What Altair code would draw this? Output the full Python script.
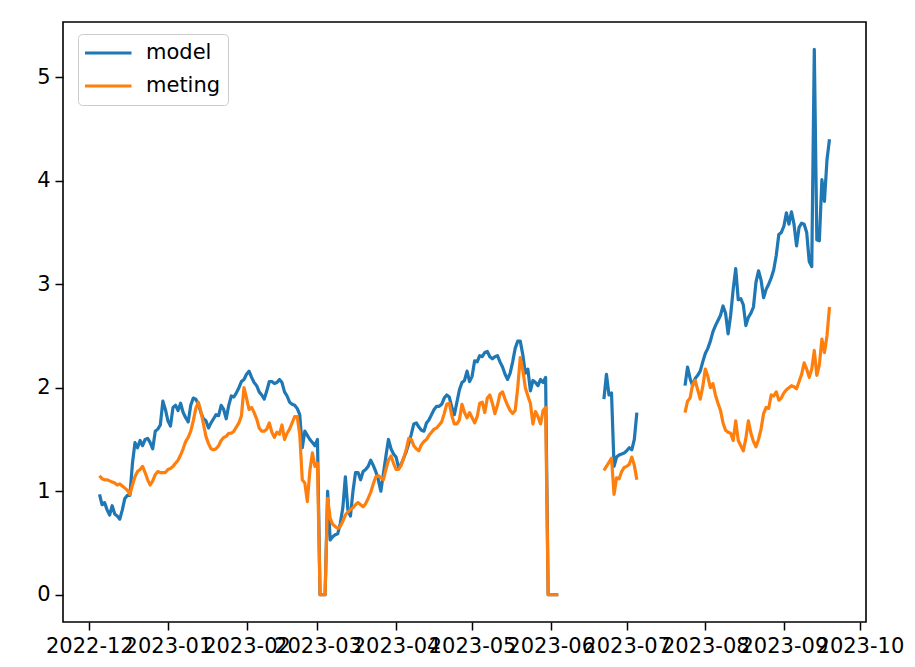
import altair as alt
import pandas as pd

# ---------------- data ----------------
series_names = ["model", "meting"]
series_colors = ["#1f77b4", "#ff7f0e"]

# daily values, three contiguous stretches
segment_starts = ["2022-12-05", "2023-06-22", "2023-07-24"]

model_seg1 = [
    0.97, 0.87, 0.89, 0.82, 0.77, 0.86, 0.78, 0.76, 0.73, 0.82,
    0.93, 0.96, 0.96, 1.27, 1.47, 1.42, 1.49, 1.44, 1.50, 1.51,
    1.47, 1.41, 1.58, 1.60, 1.64, 1.87, 1.79, 1.68, 1.63, 1.81,
    1.83, 1.78, 1.85, 1.76, 1.71, 1.67, 1.83, 1.90, 1.89, 1.84,
    1.76, 1.70, 1.68, 1.61, 1.66, 1.70, 1.74, 1.73, 1.83, 1.79,
    1.70, 1.83, 1.92, 1.91, 1.95, 2.00, 2.06, 2.08, 2.13, 2.16,
    2.10, 2.05, 2.02, 1.96, 1.93, 1.89, 1.97, 2.06, 2.06, 2.04,
    2.05, 2.08, 2.05, 1.96, 1.92, 1.86, 1.84, 1.83, 1.80, 1.74,
    1.42, 1.58, 1.54, 1.50, 1.47, 1.44, 1.50, 0.00, 0.00, 0.00,
    1.00, 0.53, 0.56, 0.58, 0.59, 0.69, 0.84, 1.14, 0.82, 0.76,
    1.00, 1.18, 1.18, 1.11, 1.19, 1.21, 1.24, 1.30, 1.25, 1.19,
    1.11, 1.00, 1.17, 1.34, 1.50, 1.41, 1.36, 1.33, 1.23, 1.26,
    1.32, 1.38, 1.46, 1.55, 1.65, 1.66, 1.62, 1.59, 1.58, 1.66,
    1.69, 1.74, 1.79, 1.82, 1.82, 1.84, 1.90, 1.93, 1.91, 1.81,
    1.74, 1.86, 1.98, 2.05, 2.07, 2.16, 2.06, 2.11, 2.26, 2.25,
    2.31, 2.30, 2.34, 2.35, 2.30, 2.28, 2.30, 2.31, 2.25, 2.20,
    2.13, 2.08, 2.14, 2.25, 2.38, 2.45, 2.45, 2.32, 2.14, 2.18,
    1.97, 2.07, 2.05, 2.02, 2.08, 2.05, 2.10, 0.00, 0.00, 0.00,
    0.00, 0.00,
]
meting_seg1 = [
    1.15, 1.12, 1.11, 1.11, 1.10, 1.09, 1.08, 1.06, 1.07, 1.05,
    1.03, 1.01, 0.97, 1.06, 1.14, 1.19, 1.21, 1.24, 1.18, 1.11,
    1.06, 1.10, 1.16, 1.19, 1.18, 1.18, 1.18, 1.21, 1.22, 1.24,
    1.27, 1.30, 1.35, 1.41, 1.48, 1.52, 1.58, 1.68, 1.80, 1.86,
    1.77, 1.65, 1.53, 1.46, 1.41, 1.40, 1.41, 1.44, 1.49, 1.52,
    1.53, 1.56, 1.56, 1.58, 1.62, 1.66, 1.73, 2.00, 1.90, 1.79,
    1.81, 1.76, 1.70, 1.61, 1.58, 1.58, 1.60, 1.66, 1.57, 1.52,
    1.57, 1.55, 1.64, 1.50, 1.56, 1.60, 1.66, 1.72, 1.72, 1.55,
    1.11, 1.08, 0.90, 1.20, 1.37, 1.24, 1.27, 0.00, 0.00, 0.00,
    0.93, 0.74, 0.68, 0.66, 0.64, 0.66, 0.71, 0.77, 0.80, 0.82,
    0.84, 0.87, 0.89, 0.87, 0.85, 0.88, 0.93, 0.99, 1.07, 1.14,
    1.15, 1.13, 1.11, 1.21, 1.30, 1.34, 1.27, 1.21, 1.21, 1.25,
    1.32, 1.40, 1.51, 1.50, 1.44, 1.41, 1.39, 1.45, 1.48, 1.50,
    1.54, 1.57, 1.60, 1.61, 1.64, 1.67, 1.75, 1.84, 1.85, 1.73,
    1.65, 1.65, 1.69, 1.84, 1.76, 1.71, 1.76, 1.71, 1.66, 1.72,
    1.85, 1.86, 1.76, 1.90, 1.93, 1.85, 1.75, 1.83, 1.94, 1.96,
    1.89, 1.83, 1.78, 1.75, 1.78, 2.00, 2.29, 2.17, 2.00, 1.92,
    1.85, 1.65, 1.77, 1.72, 1.65, 1.78, 1.81, 0.00, 0.00, 0.00,
    0.00, 0.00,
]
model_seg2 = [1.89, 2.13, 1.93, 1.95, 1.24, 1.33, 1.35, 1.36, 1.37, 1.39, 1.42, 1.40, 1.50, 1.76]
meting_seg2 = [1.20, 1.24, 1.28, 1.32, 0.97, 1.13, 1.12, 1.19, 1.23, 1.24, 1.26, 1.33, 1.25, 1.11]
model_seg3 = [
    2.02, 2.20, 2.09, 2.02, 2.09, 2.12, 2.16, 2.25, 2.33, 2.38,
    2.45, 2.54, 2.60, 2.65, 2.70, 2.79, 2.72, 2.52, 2.70, 2.95,
    3.15, 2.85, 2.86, 2.80, 2.60, 2.68, 2.72, 2.78, 3.02, 3.13,
    3.04, 2.87, 2.95, 3.00, 3.06, 3.14, 3.28, 3.48, 3.50, 3.56,
    3.69, 3.58, 3.70, 3.58, 3.37, 3.55, 3.59, 3.58, 3.50, 3.22,
    3.17, 5.27, 3.43, 3.42, 4.01, 3.80, 4.20, 4.40,
]
meting_seg3 = [
    1.76, 1.87, 1.90, 2.03, 2.07, 1.98, 1.89, 2.01, 2.18, 2.11,
    2.00, 2.04, 1.93, 1.85, 1.78, 1.66, 1.59, 1.57, 1.56, 1.49,
    1.68, 1.49, 1.44, 1.39, 1.51, 1.68, 1.56, 1.48, 1.43, 1.50,
    1.60, 1.75, 1.81, 1.80, 1.93, 1.92, 1.96, 1.88, 1.90, 1.95,
    1.98, 2.00, 2.02, 2.01, 1.99, 2.06, 2.13, 2.24, 2.18, 2.10,
    2.18, 2.36, 2.12, 2.22, 2.47, 2.34, 2.50, 2.78,
]

x_tick_dates = ["2022-12-01", "2023-01-01", "2023-02-01", "2023-03-01", "2023-04-01",
                "2023-05-01", "2023-06-01", "2023-07-01", "2023-08-01", "2023-09-01",
                "2023-10-01"]
y_ticks = [0, 1, 2, 3, 4, 5]


# ---------------- table ----------------
def build(name, segs):
    rows = []
    for i, (start, vals) in enumerate(zip(segment_starts, segs)):
        for d, v in zip(pd.date_range(start, periods=len(vals), freq="D"), vals):
            rows.append({"date": d.strftime("%Y-%m-%d"), "value": v,
                         "series": name, "segment": i})
    return pd.DataFrame(rows)


df_model = build("model", [model_seg1, model_seg2, model_seg3])
df_meting = build("meting", [meting_seg1, meting_seg2, meting_seg3])


def ms(ts):
    return int(pd.Timestamp(ts).value // 10**6)


# matplotlib-like 5% margins
all_dates = pd.to_datetime(pd.concat([df_model["date"], df_meting["date"]]))
d0, d1 = all_dates.min(), all_dates.max()
dpad = (d1 - d0) * 0.05
x_domain = [ms(d0 - dpad), ms(d1 + dpad)]

all_vals = pd.concat([df_model["value"], df_meting["value"]])
v0, v1 = float(all_vals.min()), float(all_vals.max())
vpad = (v1 - v0) * 0.05
y_domain = [v0 - vpad, v1 + vpad]

x_values = [ms(s) for s in x_tick_dates]

FONT = "DejaVu Sans"

x_enc = alt.X(
    "date:T",
    scale=alt.Scale(type="utc", domain=x_domain, nice=False),
    axis=alt.Axis(values=x_values, labelExpr="utcFormat(datum.value, '%Y-%m')",
                  labelOverlap=False, labelFlush=False, title=None),
)
y_enc = alt.Y(
    "value:Q",
    scale=alt.Scale(domain=y_domain, nice=False, zero=False),
    axis=alt.Axis(values=y_ticks, format="d", title=None),
)
color_enc = alt.Color(
    "series:N",
    scale=alt.Scale(domain=series_names, range=series_colors),
    legend=alt.Legend(
        title=None, orient="none", legendX=15, legendY=12,
        padding=7, strokeColor="#cccccc", cornerRadius=4, fillColor="white",
        symbolType="stroke", symbolSize=2304, symbolStrokeWidth=3,
        symbolOffset=-3, labelOffset=13, clipHeight=24, rowPadding=9,
        labelFont=FONT, labelFontSize=21, labelColor="black",
    ),
)

line_style = dict(strokeWidth=3.2, strokeJoin="round")

model_line = alt.Chart(df_model).mark_line(**line_style).encode(
    x=x_enc, y=y_enc, color=color_enc, detail="segment:N")
meting_line = alt.Chart(df_meting).mark_line(**line_style).encode(
    x=x_enc, y=y_enc, color=color_enc, detail="segment:N")

chart = (
    alt.layer(model_line, meting_line)
    .properties(
        width=803, height=600,
        padding={"left": 55, "top": 14, "right": 41, "bottom": 37},
        autosize=alt.AutoSizeParams(type="none"),
        background="white",
    )
    .configure_view(stroke="black", strokeWidth=1.6, fill="white")
    .configure_axis(
        labelFont=FONT, labelFontSize=21, labelColor="black",
        tickColor="black", tickSize=8, tickWidth=1.5, labelPadding=5,
        domain=False, grid=False,
    )
)

chart.save("out.html", embed_options={"renderer": "svg", "actions": False})
